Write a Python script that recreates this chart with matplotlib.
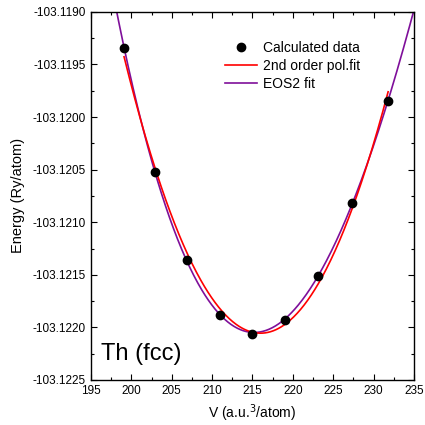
import numpy as np
import matplotlib
matplotlib.use("Agg")
import matplotlib.pyplot as plt
from matplotlib.ticker import MultipleLocator, FormatStrFormatter

plt.rcParams['font.family'] = ['Liberation Sans', 'DejaVu Sans']

volume = [199.1, 202.9, 206.9, 211.0, 214.9, 219.0, 223.1, 227.3, 231.8]
energy = [-103.11934, -103.12052, -103.12136, -103.12188, -103.12206,
          -103.12193, -103.12151, -103.12082, -103.11985]

V = np.array(volume)
E = np.array(energy)
e0 = E.mean()

# 2nd order polynomial fit over the data range
p2 = np.polyfit(V, E - e0, 2)
v_red = np.linspace(V.min(), V.max(), 300)
e_red = np.polyval(p2, v_red) + e0

# EOS2 (Birch-type: cubic in V^(-2/3)) fit over full range
x = V ** (-2.0 / 3.0)
pb = np.polyfit(x, E - e0, 3)
v_pur = np.linspace(195, 235, 400)
e_pur = np.polyval(pb, v_pur ** (-2.0 / 3.0)) + e0

fig = plt.figure(figsize=(4.25, 4.25), dpi=100)
ax = fig.add_axes([0.214, 0.106, 0.76, 0.866])

ax.plot(v_pur, e_pur, color='#7f0f9a', lw=1.2, label='EOS2 fit', zorder=2)
ax.plot(v_red, e_red, color='#ff0000', lw=1.2, label='2nd order pol.fit', zorder=3)
ax.plot(V, E, 'o', color='black', ms=6, label='Calculated data', zorder=4)

ax.set_xlim(195, 235)
ax.set_ylim(-103.1225, -103.1190)
ax.xaxis.set_major_locator(MultipleLocator(5))
ax.xaxis.set_minor_locator(MultipleLocator(2.5))
ax.yaxis.set_major_locator(MultipleLocator(0.0005))
ax.yaxis.set_minor_locator(MultipleLocator(0.00025))
ax.yaxis.set_major_formatter(FormatStrFormatter('%.4f'))
ax.tick_params(which='both', direction='in', top=True, right=True, labelsize=8.5)
ax.tick_params(which='major', length=4, width=0.8)
ax.tick_params(which='minor', length=2, width=0.8)
for s in ax.spines.values():
    s.set_linewidth(1.0)

ax.set_xlabel('V (a.u.$^3$/atom)', fontsize=10)
ax.set_ylabel('Energy (Ry/atom)', fontsize=10.5, labelpad=6)

ax.text(0.03, 0.04, 'Th (fcc)', transform=ax.transAxes, fontsize=17, ha='left', va='bottom')

h, l = ax.get_legend_handles_labels()
order = [2, 1, 0]
ax.legend([h[i] for i in order], [l[i] for i in order], loc='upper right',
          bbox_to_anchor=(0.832, 0.921), frameon=False, fontsize=10,
          handlelength=2.3, handletextpad=0.4, labelspacing=0.3, borderaxespad=0.0,
          borderpad=0.0)

fig.savefig('out.png', dpi=100)
